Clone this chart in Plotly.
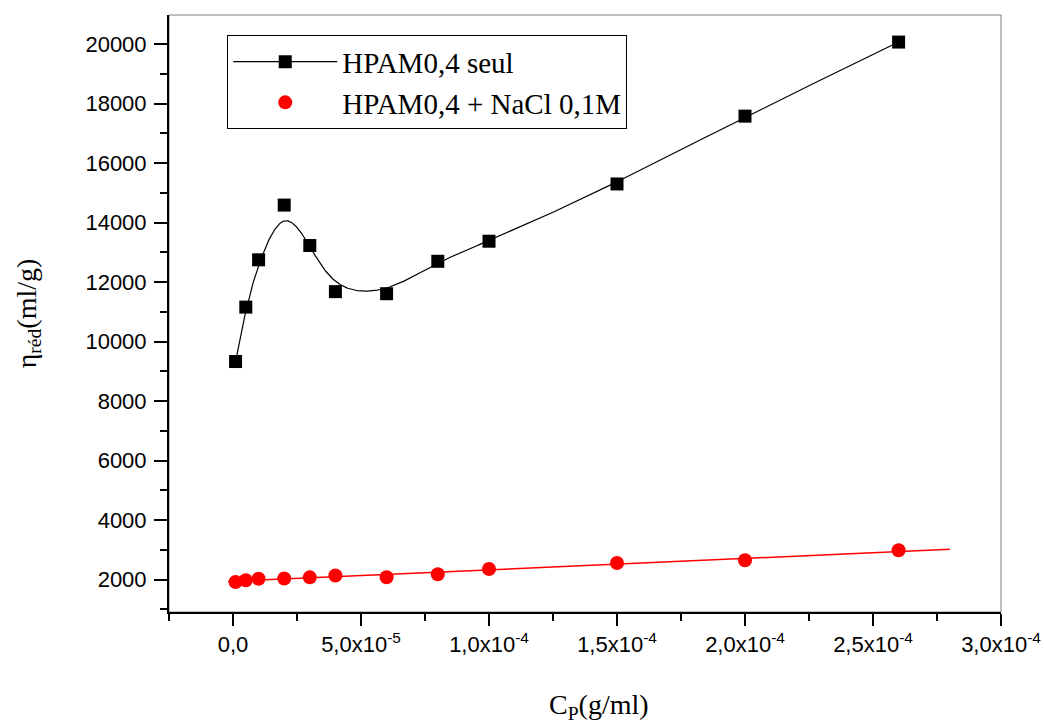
import numpy as np
import plotly.graph_objects as go

# ---- data ----
cp = [1e-6, 5e-6, 1e-5, 2e-5, 3e-5, 4e-5, 6e-5, 8e-5, 1e-4, 1.5e-4, 2e-4, 2.6e-4]
eta_seul = [9330, 11160, 12750, 14590, 13230, 11680, 11610, 12700, 13375, 15300, 17580, 20070]
eta_nacl = [1920, 1975, 2030, 2035, 2075, 2135, 2080, 2180, 2355, 2555, 2650, 2985]
fit_x_range = [-2e-6, 2.8e-4]

x_tickvals = [0, 5e-5, 1e-4, 1.5e-4, 2e-4, 2.5e-4, 3e-4]
x_ticktext = ["0,0", "5,0x10<sup>-5</sup>", "1,0x10<sup>-4</sup>", "1,5x10<sup>-4</sup>",
              "2,0x10<sup>-4</sup>", "2,5x10<sup>-4</sup>", "3,0x10<sup>-4</sup>"]
y_tickvals = [2000, 4000, 6000, 8000, 10000, 12000, 14000, 16000, 18000, 20000]
y_ticktext = ["2000", "4000", "6000", "8000", "10000", "12000", "14000", "16000", "18000", "20000"]


# clamped cubic B-spline through control points (Origin "B-Spline" connection)
def bspline(xs, ys, degree=3, num=800):
    P = np.column_stack([xs, ys]).astype(float)
    n = len(P)
    inner = np.linspace(0, 1, n - degree + 1)
    knots = np.concatenate([np.zeros(degree), inner, np.ones(degree)])
    t = np.linspace(0, 1, num)
    t[-1] = 1 - 1e-12

    def basis(i, k, tt):
        if k == 0:
            return np.where((knots[i] <= tt) & (tt < knots[i + 1]), 1.0, 0.0)
        out = np.zeros_like(tt)
        d1 = knots[i + k] - knots[i]
        d2 = knots[i + k + 1] - knots[i + 1]
        if d1 > 0:
            out += (tt - knots[i]) / d1 * basis(i, k - 1, tt)
        if d2 > 0:
            out += (knots[i + k + 1] - tt) / d2 * basis(i + 1, k - 1, tt)
        return out

    B = np.column_stack([basis(i, degree, t) for i in range(n)])
    C = B @ P
    return C[:, 0], C[:, 1]


bx, by = bspline(cp, eta_seul)

slope, intercept = np.polyfit(cp, eta_nacl, 1)
fx = np.array(fit_x_range)
fy = slope * fx + intercept

fig = go.Figure()
# spline curve carries the legend entry (line + square symbol); its own markers hidden
fig.add_trace(go.Scatter(x=bx, y=by, mode="lines+markers", name="HPAM0,4 seul",
                         line=dict(color="black", width=1.2),
                         marker=dict(symbol="square", size=13, color="black"),
                         selectedpoints=[], unselected=dict(marker=dict(opacity=0)),
                         hoverinfo="skip"))
fig.add_trace(go.Scatter(x=fx, y=fy, mode="lines", line=dict(color="red", width=1.5),
                         showlegend=False, hoverinfo="skip"))
fig.add_trace(go.Scatter(x=cp, y=eta_seul, mode="markers", name="HPAM0,4 seul",
                         showlegend=False,
                         marker=dict(symbol="square", size=13, color="black")))
fig.add_trace(go.Scatter(x=cp, y=eta_nacl, mode="markers", name="HPAM0,4 + NaCl 0,1M",
                         marker=dict(symbol="circle", size=14, color="red")))

fig.update_layout(
    width=1044, height=724,
    margin=dict(l=169, r=43, t=15, b=112, autoexpand=False),
    paper_bgcolor="white", plot_bgcolor="white",
    font=dict(family="Liberation Sans", color="black"),
    showlegend=True,
    legend=dict(x=0.07, y=0.966, xanchor="left", yanchor="top",
                bgcolor="white", bordercolor="black", borderwidth=1,
                font=dict(family="Liberation Serif", size=29),
                itemwidth=104, tracegroupgap=0),
    shapes=[dict(type="rect", xref="paper", yref="paper", x0=0, y0=0, x1=1, y1=1,
                 line=dict(color="#7f7f7f", width=1), layer="below")],
    annotations=[dict(text="C<sub>P</sub>(g/ml)", xref="paper", yref="paper",
                      x=0.517, y=-0.158, xanchor="center", yanchor="middle",
                      showarrow=False, font=dict(family="Liberation Serif", size=28))],
)
fig.update_xaxes(
    range=[-2.5e-5, 3e-4], showgrid=False, zeroline=False, automargin=False,
    showline=True, linecolor="black", linewidth=2, mirror=False,
    tickmode="array", tickvals=x_tickvals, ticktext=x_ticktext,
    ticks="outside", ticklen=12, tickwidth=2, tickcolor="black",
    tickfont=dict(family="Liberation Sans", size=22), ticklabelstandoff=0,
    minor=dict(ticks="outside", ticklen=7, tickwidth=2, tickcolor="black",
               tick0=-2.5e-5, dtick=2.5e-5, showgrid=False),
)
fig.update_yaxes(
    range=[910, 20980], showgrid=False, zeroline=False, automargin=False,
    showline=True, linecolor="black", linewidth=2, mirror=False,
    tickmode="array", tickvals=y_tickvals, ticktext=y_ticktext,
    ticks="outside", ticklen=13, tickwidth=2, tickcolor="black",
    tickfont=dict(family="Liberation Sans", size=22), ticklabelstandoff=3,
    minor=dict(ticks="outside", ticklen=7, tickwidth=2, tickcolor="black",
               tick0=1000, dtick=1000, showgrid=False),
    title=dict(text="η<sub>réd</sub>(ml/g)", font=dict(family="Liberation Serif", size=28), standoff=41),
)

fig.write_html("out.html", config={"displayModeBar": False},
               post_script="document.body.style.margin='0px';")
